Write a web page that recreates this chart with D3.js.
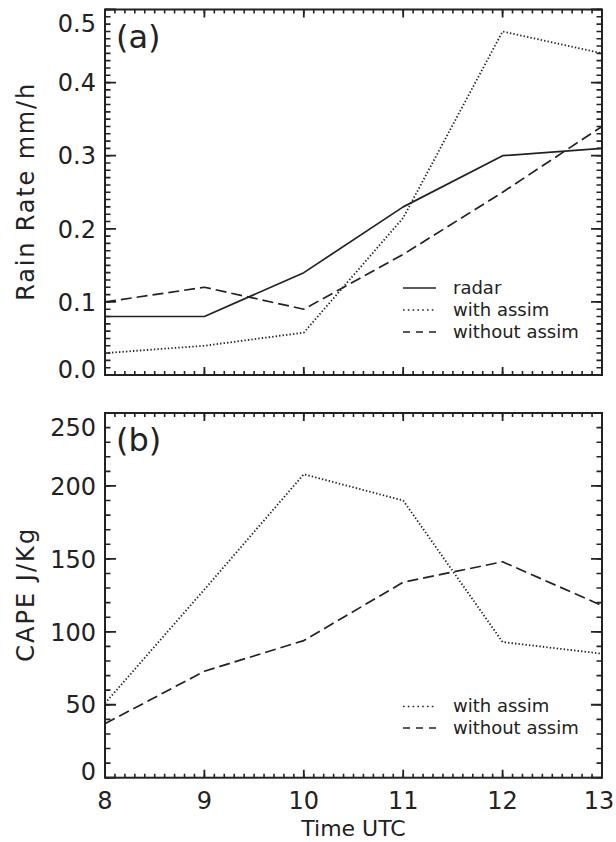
<!DOCTYPE html>
<html>
<head>
<meta charset="utf-8">
<script src="https://cdn.jsdelivr.net/npm/d3@7"></script>
<style>
  html, body { margin: 0; padding: 0; background: #fff; }
  svg { display: block; }
  text { font-family: "DejaVu Sans", sans-serif; fill: #222; }
</style>
</head>
<body>
<svg id="chart" width="616" height="842"></svg>
<script>
// Hourly time axis (UTC)
const hours = [8, 9, 10, 11, 12, 13];

// Panel (a): rain rate, mm/h
const rainRadar   = [0.08, 0.08, 0.14, 0.23, 0.30, 0.31];
const rainWith    = [0.03, 0.04, 0.058, 0.215, 0.47, 0.44];
const rainWithout = [0.10, 0.12, 0.09, 0.165, 0.25, 0.34];

// Panel (b): CAPE, J/Kg
const capeWith    = [51, 129, 208, 190, 93, 85];
const capeWithout = [37, 73, 94, 134, 148, 118];

// Tick values
const hourTicks  = [8, 9, 10, 11, 12, 13];
const rainTicks  = [0, 0.1, 0.2, 0.3, 0.4, 0.5];
const capeTicks  = [0, 50, 100, 150, 200, 250];

const svg = d3.select("#chart");
const ink = "#222";

const left = 105, right = 602;
const x = d3.scaleLinear().domain([8, 13]).range([left, right]);

const styles = {
  solid:  { dash: null,      legendDash: null },
  dotted: { dash: "1.4,2.1", legendDash: "1.6,3.2" },
  dashed: { dash: "11,5",    legendDash: "7,6" }
};

// inward tick marks along one edge of a plot frame, as a single path
function edgeTicks(g, scale, values, edge, pos, len, width) {
  const vertical = edge === "left" || edge === "right";
  const dir = (edge === "left" || edge === "top") ? 1 : -1;
  const p = d3.path();
  values.forEach(v => {
    const c = scale(v);
    if (vertical) { p.moveTo(pos, c); p.lineTo(pos + dir * len, c); }
    else { p.moveTo(c, pos); p.lineTo(c, pos + dir * len); }
  });
  g.append("path").attr("d", p.toString())
    .attr("fill", "none")
    .attr("stroke", ink).attr("stroke-width", width);
}

function drawPanel(cfg) {
  const { top, bottom, domain, ticks, minorStep, fmt, title, titleLen, tag, series, legend } = cfg;
  const y = d3.scaleLinear().domain(domain).range([bottom, top]);
  const g = svg.append("g");
  const clipId = "clip-" + tag;

  svg.append("clipPath").attr("id", clipId)
    .append("rect").attr("x", left).attr("y", top)
    .attr("width", right - left).attr("height", bottom - top);

  const xMinor = d3.range(0, 51).map(i => 8 + i / 10);
  const nY = Math.round((domain[1] - domain[0]) / minorStep);
  const yMinor = d3.range(0, nY + 1).map(i => domain[0] + i * minorStep);

  // frame
  g.append("rect").attr("x", left).attr("y", top)
    .attr("width", right - left).attr("height", bottom - top)
    .attr("fill", "none").attr("stroke", ink).attr("stroke-width", 2);

  // minor and major ticks, inward on all four sides
  edgeTicks(g, x, xMinor, "bottom", bottom, 4, 1.6);
  edgeTicks(g, x, xMinor, "top", top, 4, 1.6);
  edgeTicks(g, y, yMinor, "left", left, 5.5, 1.6);
  edgeTicks(g, y, yMinor, "right", right, 5.5, 1.6);
  edgeTicks(g, x, hourTicks, "bottom", bottom, 8, 1.8);
  edgeTicks(g, x, hourTicks, "top", top, 8, 1.8);
  edgeTicks(g, y, ticks, "left", left, 11, 1.8);
  edgeTicks(g, y, ticks, "right", right, 11, 1.8);

  // y tick labels (end labels nudged inside the frame span)
  const f = d3.format(fmt);
  g.append("g").selectAll("text").data(ticks).join("text")
    .attr("x", left - 9)
    .attr("y", d => Math.max(top + 14, Math.min(bottom - 6, y(d))) + 8.7)
    .attr("text-anchor", "end").attr("font-size", 24)
    .text(d => f(d));

  // x tick labels
  if (cfg.showX) {
    g.append("g").selectAll("text").data(hourTicks).join("text")
      .attr("x", d => Math.min(x(d), 599))
      .attr("y", bottom + 31)
      .attr("text-anchor", "middle").attr("font-size", 24)
      .text(d3.format("d"));
  }

  // data lines
  const line = d3.line().x((d, i) => x(hours[i])).y(d => y(d));
  series.forEach(s => {
    g.append("path").datum(s.values)
      .attr("clip-path", `url(#${clipId})`)
      .attr("d", line)
      .attr("fill", "none").attr("stroke", ink)
      .attr("stroke-width", s.style === "dotted" ? 1.8 : 1.7)
      .attr("stroke-dasharray", styles[s.style].dash)
      .attr("stroke-linejoin", "round");
  });

  // y-axis title
  const ym = (top + bottom) / 2;
  g.append("text")
    .attr("transform", `translate(34,${ym}) rotate(-90)`)
    .attr("text-anchor", "middle")
    .attr("font-size", 24)
    .attr("textLength", titleLen).attr("lengthAdjust", "spacing")
    .text(title);

  // panel tag
  g.append("text").attr("x", 116).attr("y", top + 38)
    .attr("font-size", 32).text(`(${tag})`);

  // legend
  series.filter(s => s.label).forEach((s, i) => {
    const by = legend.y + i * legend.step;
    g.append("line")
      .attr("x1", 403).attr("x2", 436)
      .attr("y1", by - 5.5).attr("y2", by - 5.5)
      .attr("stroke", ink).attr("stroke-width", 1.7)
      .attr("stroke-dasharray", styles[s.style].legendDash);
    g.append("text").attr("x", 453).attr("y", by)
      .attr("font-size", 18).text(s.label);
  });
}

drawPanel({
  top: 9.5, bottom: 375, domain: [0, 0.5], ticks: rainTicks, minorStep: 0.01,
  fmt: ".1f", title: "Rain Rate mm/h", titleLen: 217, tag: "a", showX: false,
  series: [
    { values: rainRadar,   style: "solid",  label: "radar" },
    { values: rainWith,    style: "dotted", label: "with assim" },
    { values: rainWithout, style: "dashed", label: "without assim" }
  ],
  legend: { y: 293.5, step: 22 }
});

drawPanel({
  top: 413, bottom: 777.7, domain: [0, 250], ticks: capeTicks, minorStep: 10,
  fmt: "d", title: "CAPE J/Kg", titleLen: 133, tag: "b", showX: true,
  series: [
    { values: capeWith,    style: "dotted", label: "with assim" },
    { values: capeWithout, style: "dashed", label: "without assim" }
  ],
  legend: { y: 712, step: 21.5 }
});

// shared x-axis title
svg.append("text")
  .attr("x", (left + right) / 2).attr("y", 836)
  .attr("text-anchor", "middle").attr("font-size", 22)
  .text("Time UTC");
</script>
</body>
</html>
